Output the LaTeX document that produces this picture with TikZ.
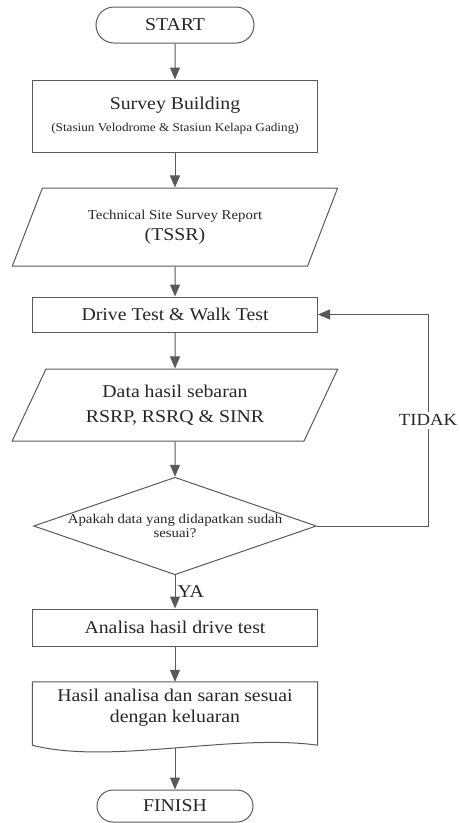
\documentclass[tikz,border=0pt]{standalone}
\usepackage{fontspec}
\setmainfont{Liberation Serif}[FakeStretch=1.1]
\usetikzlibrary{shapes.geometric,shapes.misc,arrows.meta,calc}
\begin{document}
\begin{tikzpicture}[x=1pt,y=-1pt,
    every node/.style={text=black!85, font=\fontsize{18}{21}\selectfont},
    garis/.style={draw=black!65, line width=1pt},
    terminal/.style={garis, rounded rectangle, minimum width=158pt, minimum height=36pt, inner sep=0pt},
    proses/.style={garis, rectangle, minimum width=285pt, inner sep=0pt, align=center},
    io/.style={garis, trapezium, trapezium left angle=60, trapezium right angle=120, trapezium stretches=true, minimum width=326pt, minimum height=78pt, inner sep=0pt, align=center},
    keputusan/.style={garis, diamond, shape aspect=2.9, minimum width=280pt, minimum height=96pt, inner sep=0pt, align=center},
    panah/.style={draw=black!65, line width=1pt, -{Triangle[length=12pt,width=10pt]}}]
  \useasboundingbox (0,0) rectangle (459,823);
  \node[terminal] (start) at (175,25) {START};
  \node[proses, minimum height=72pt] (survey) at (175,116) {Survey Building\\[1pt]{\fontsize{12}{14}\selectfont (Stasiun Velodrome \& Stasiun Kelapa Gading)}};
  \node[io] (tssr) at (175,227) {{\fontsize{13.5}{16}\selectfont Technical Site Survey Report}\\[0pt](TSSR)};
  \node[proses, minimum height=35pt] (drive) at (175,314.5) {Drive Test \& Walk Test};
  \node[io, minimum height=72pt] (data) at (175,405) {Data hasil sebaran\\[4pt]RSRP, RSRQ \& SINR};
  \node[keputusan, font=\fontsize{13.5}{14}\selectfont] (cek) at (175,526) {Apakah data yang didapatkan sudah\\sesuai?};
  \node[proses, minimum height=37pt] (analisa) at (175,627.5) {Analisa hasil drive test};
  \node[minimum width=285pt, minimum height=52pt, inner sep=0pt, align=center] (hasil) at (175,708) {Hasil analisa dan saran sesuai\\dengan keluaran};
  \draw[garis] (hasil.north west) -- (hasil.north east) -- ($(hasil.south east)+(0,11)$) .. controls +(-87,-12) and +(78,20) .. ($(hasil.south west)+(0,11)$) -- cycle;
  \coordinate (hasilbawah) at (175,748);
  \node[terminal, minimum width=156pt, minimum height=32pt] (finish) at (175,806) {FINISH};
  \coordinate (balik) at (428,526);
  \draw[panah] (start) -- (survey);
  \draw[panah] (survey) -- (tssr);
  \draw[panah] (tssr) -- (drive);
  \draw[panah] (drive) -- (data);
  \draw[panah] (data) -- (cek);
  \draw[panah] (cek) -- node[right, inner sep=2pt] {YA} (analisa);
  \draw[panah] (analisa) -- (hasil);
  \draw[panah] (hasilbawah) -- (finish);
  \draw[panah] (cek.east) -- (balik) |- node[pos=0.25, fill=white, inner sep=3pt, font=\fontsize{17}{20}\selectfont] {TIDAK} (drive.east);
\end{tikzpicture}
\end{document}
